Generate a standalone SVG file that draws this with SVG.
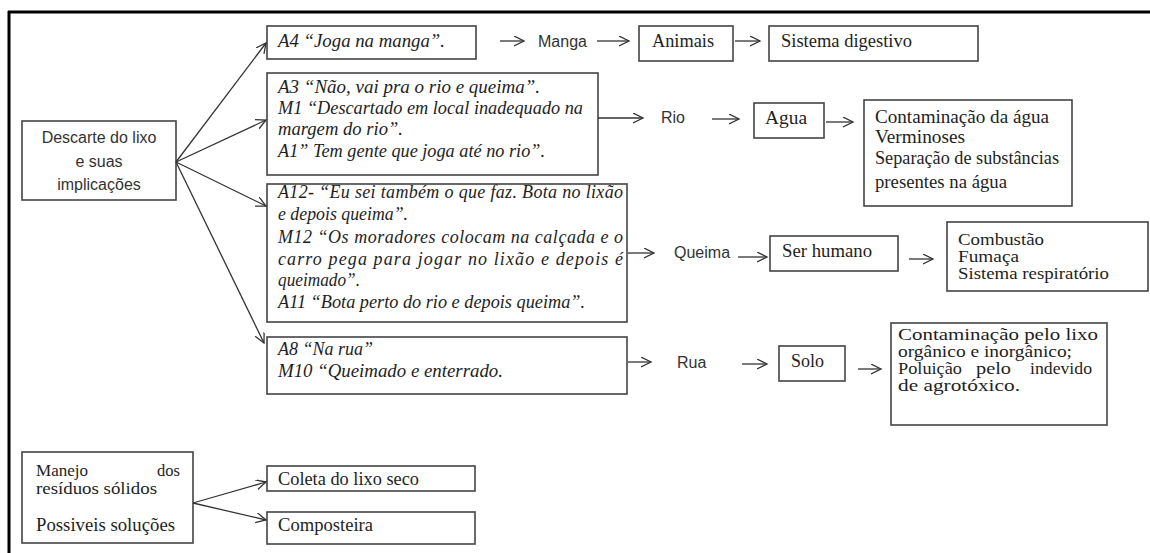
<svg xmlns="http://www.w3.org/2000/svg" width="1150" height="553" viewBox="0 0 1150 553">
<defs>
<marker id="ah" markerUnits="userSpaceOnUse" markerWidth="12" markerHeight="12" refX="10" refY="5" orient="auto">
<path d="M0,0 L10,5 L0,10" fill="none" stroke="#333" stroke-width="1.3"/>
</marker>
<style>
.box{fill:#fff;stroke:#444;stroke-width:1.6}
.q{font-family:"Liberation Serif",serif;font-style:italic;font-size:18px;fill:#1e1e1e}
.s{font-family:"Liberation Serif",serif;font-size:18px;fill:#1e1e1e}
.t{font-family:"Liberation Serif",serif;font-size:17px;fill:#1e1e1e}
.n{font-family:"Liberation Sans",sans-serif;font-size:16px;fill:#333}
.c line{stroke:#333;stroke-width:1.3;marker-end:url(#ah)}
</style>
</defs>
<rect width="1150" height="553" fill="#fff"/>
<g id="frame">
<line x1="8" y1="12" x2="1150" y2="12" stroke="#000" stroke-width="3"/>
<line x1="9" y1="11" x2="9" y2="553" stroke="#000" stroke-width="3"/>
</g>
<g id="descarte">
<rect class="box" x="22" y="121" width="154" height="79"/>
<text class="n" text-anchor="middle" x="99" y="143">Descarte do lixo</text>
<text class="n" text-anchor="middle" x="99" y="167">e suas</text>
<text class="n" text-anchor="middle" x="99" y="190">implicações</text>
</g>
<g id="a4">
<rect class="box" x="267" y="26" width="209" height="33"/>
<text class="q" x="278" y="47" textLength="167" lengthAdjust="spacingAndGlyphs">A4 “Joga na manga”.</text>
</g>
<g id="manga"><text class="n" x="538" y="47">Manga</text></g>
<g id="animais">
<rect class="box" x="639" y="26" width="94" height="35"/>
<text class="s" x="652" y="47" textLength="62" lengthAdjust="spacingAndGlyphs">Animais</text>
</g>
<g id="digestivo">
<rect class="box" x="769" y="26" width="209" height="35"/>
<text class="s" x="781" y="47" textLength="131" lengthAdjust="spacingAndGlyphs">Sistema digestivo</text>
</g>
<g id="a3">
<rect class="box" x="267" y="73" width="331" height="102"/>
<text class="q" x="278" y="93" textLength="262" lengthAdjust="spacingAndGlyphs">A3 “Não, vai pra o rio e queima”.</text>
<text class="q" x="278" y="114" textLength="305" lengthAdjust="spacingAndGlyphs">M1 “Descartado em local inadequado na</text>
<text class="q" x="278" y="135" textLength="125" lengthAdjust="spacingAndGlyphs">margem do rio”.</text>
<text class="q" x="278" y="157" textLength="267" lengthAdjust="spacingAndGlyphs">A1” Tem gente que joga até no rio”.</text>
</g>
<g id="rio"><text class="n" x="661" y="123">Rio</text></g>
<g id="agua">
<rect class="box" x="754" y="103" width="70" height="35"/>
<text class="s" x="765" y="124" textLength="42" lengthAdjust="spacingAndGlyphs">Agua</text>
</g>
<g id="contam-agua">
<rect class="box" x="864" y="100" width="208" height="106"/>
<text class="s" x="875" y="123" textLength="174" lengthAdjust="spacingAndGlyphs">Contaminação da água</text>
<text class="s" x="875" y="143" textLength="90" lengthAdjust="spacingAndGlyphs">Verminoses</text>
<text class="s" x="875" y="164" textLength="184" lengthAdjust="spacingAndGlyphs">Separação de substâncias</text>
<text class="s" x="875" y="188" textLength="132" lengthAdjust="spacingAndGlyphs">presentes na água</text>
</g>
<g id="a12">
<rect class="box" x="267" y="184" width="360" height="138"/>
<text class="q" x="278" y="198" textLength="345" lengthAdjust="spacing">A12- “Eu sei também o que faz. Bota no lixão</text>
<text class="q" x="278" y="220" textLength="130" lengthAdjust="spacingAndGlyphs">e depois queima”.</text>
<text class="q" x="278" y="243" textLength="345" lengthAdjust="spacing">M12 “Os moradores colocam na calçada e o</text>
<text class="q" x="278" y="265" textLength="345" lengthAdjust="spacing">carro pega para jogar no lixão e depois é</text>
<text class="q" x="278" y="286" textLength="82" lengthAdjust="spacingAndGlyphs">queimado”.</text>
<text class="q" x="278" y="308" textLength="307" lengthAdjust="spacingAndGlyphs">A11 “Bota perto do rio e depois queima”.</text>
</g>
<g id="queima"><text class="n" x="674" y="258">Queima</text></g>
<g id="humano">
<rect class="box" x="770" y="236" width="128" height="35"/>
<text class="s" x="782" y="257" textLength="90" lengthAdjust="spacingAndGlyphs">Ser humano</text>
</g>
<g id="combustao">
<rect class="box" x="947" y="222" width="201" height="69"/>
<text class="t" x="958" y="245" textLength="86" lengthAdjust="spacingAndGlyphs">Combustão</text>
<text class="t" x="958" y="262" textLength="61" lengthAdjust="spacingAndGlyphs">Fumaça</text>
<text class="t" x="958" y="279" textLength="151" lengthAdjust="spacingAndGlyphs">Sistema respiratório</text>
</g>
<g id="a8">
<rect class="box" x="267" y="337" width="360" height="57"/>
<text class="q" x="278" y="355" textLength="95" lengthAdjust="spacingAndGlyphs">A8 “Na rua”</text>
<text class="q" x="278" y="377" textLength="225" lengthAdjust="spacingAndGlyphs">M10 “Queimado e enterrado.</text>
</g>
<g id="rua"><text class="n" x="677" y="368">Rua</text></g>
<g id="solo">
<rect class="box" x="779" y="346" width="66" height="35"/>
<text class="s" x="791" y="367" textLength="33" lengthAdjust="spacingAndGlyphs">Solo</text>
</g>
<g id="contam-lixo">
<rect class="box" x="891" y="323" width="216" height="102"/>
<text class="t" x="898" y="340" textLength="200" lengthAdjust="spacingAndGlyphs">Contaminação pelo lixo</text>
<text class="t" x="898" y="357" textLength="174" lengthAdjust="spacingAndGlyphs">orgânico e inorgânico;</text>
<text class="t" y="374"><tspan x="898" textLength="64" lengthAdjust="spacingAndGlyphs">Poluição</tspan> <tspan x="976" textLength="35" lengthAdjust="spacingAndGlyphs">pelo</tspan> <tspan x="1030" textLength="62" lengthAdjust="spacingAndGlyphs">indevido</tspan></text>
<text class="t" x="898" y="391" textLength="122" lengthAdjust="spacingAndGlyphs">de agrotóxico.</text>
</g>
<g id="manejo">
<rect class="box" x="22" y="452" width="171" height="91"/>
<text class="t" x="36" y="476" textLength="52" lengthAdjust="spacingAndGlyphs">Manejo</text>
<text class="t" x="157" y="476" textLength="23" lengthAdjust="spacingAndGlyphs">dos</text>
<text class="t" x="36" y="494" textLength="121" lengthAdjust="spacingAndGlyphs">resíduos sólidos</text>
<text class="s" x="36" y="531" textLength="139" lengthAdjust="spacingAndGlyphs">Possiveis soluções</text>
</g>
<g id="coleta">
<rect class="box" x="267" y="466" width="208" height="25"/>
<text class="s" x="278" y="485" textLength="141" lengthAdjust="spacingAndGlyphs">Coleta do lixo seco</text>
</g>
<g id="composteira">
<rect class="box" x="267" y="512" width="208" height="32"/>
<text class="s" x="278" y="531" textLength="95" lengthAdjust="spacingAndGlyphs">Composteira</text>
</g>
<g id="connectors" class="c">
<line x1="176" y1="162" x2="266" y2="43"/>
<line x1="176" y1="162" x2="266" y2="120"/>
<line x1="176" y1="162" x2="266" y2="206"/>
<line x1="176" y1="162" x2="264" y2="343"/>
<line x1="500" y1="41" x2="524" y2="41"/>
<line x1="597" y1="41" x2="629" y2="41"/>
<line x1="735" y1="41" x2="760" y2="41"/>
<line x1="598" y1="118" x2="643" y2="118"/>
<line x1="712" y1="119" x2="739" y2="119"/>
<line x1="826" y1="122" x2="853" y2="122"/>
<line x1="628" y1="253" x2="654" y2="253"/>
<line x1="738" y1="257" x2="767" y2="257"/>
<line x1="909" y1="259" x2="933" y2="259"/>
<line x1="628" y1="362" x2="651" y2="362"/>
<line x1="742" y1="364" x2="767" y2="364"/>
<line x1="858" y1="369" x2="881" y2="369"/>
<line x1="193" y1="503" x2="266" y2="482"/>
<line x1="193" y1="503" x2="266" y2="520"/>
</g>
</svg>
